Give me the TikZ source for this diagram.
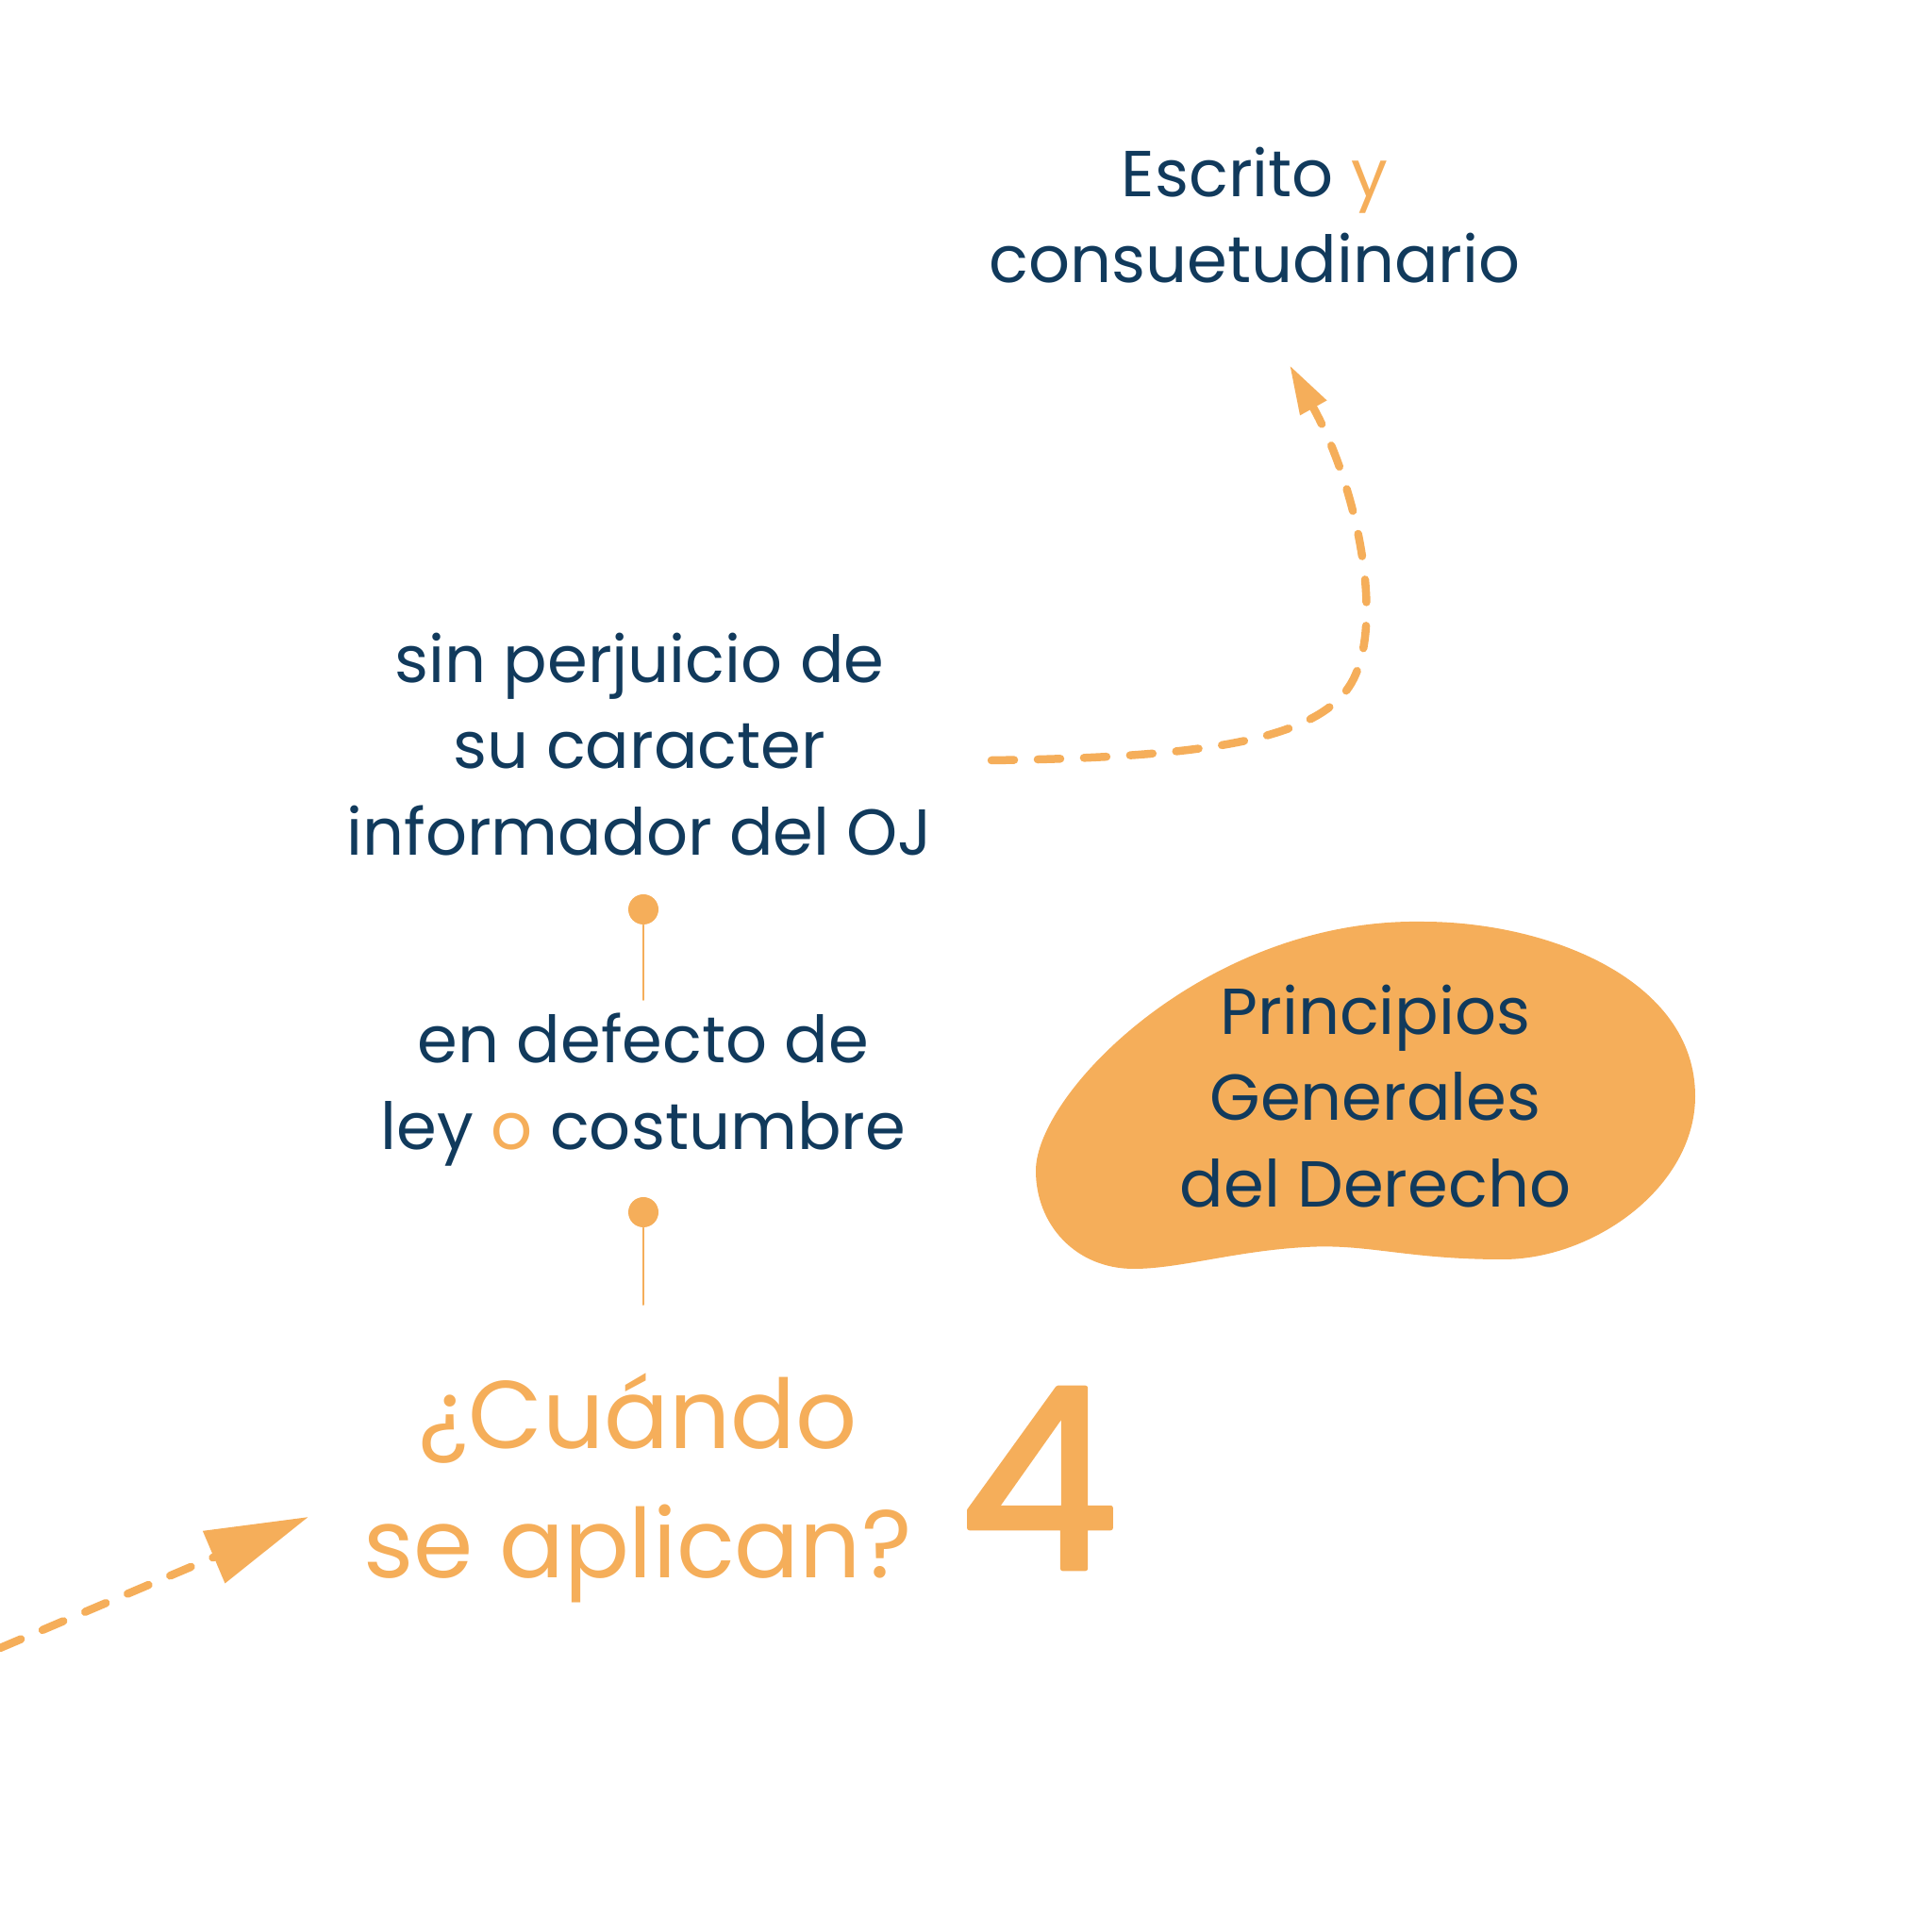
\documentclass[tikz,border=0pt]{standalone}
\usepackage{fontspec}
\setmainfont{Poppins}
\newfontfamily\numfont[FakeBold=2]{Poppins}
\usetikzlibrary{arrows.meta}
\definecolor{navy}{HTML}{113A5C}
\definecolor{peach}{HTML}{F5AE5A}

\begin{document}
\begin{tikzpicture}[
	line cap=round,
	line join=round,
	txt/.style={text=navy, align=center, font=\fontsize{19.6}{26}\selectfont},
	bigtxt/.style={text=peach, align=center, font=\fontsize{29}{39}\selectfont},
	pin/.style={circle, fill=peach, inner sep=0pt, minimum size=0.32cm},
	dasharrow/.style={draw=peach, line width=0.085cm, dash pattern=on 0.24cm off 0.25cm}
	]

	\useasboundingbox (0,0) rectangle (20.48,20.48);

	% Blob
	\fill[peach] (10.98,8.07)
		.. controls (10.98,8.90) and (12.80,10.75) .. (15.08,10.71)
		.. controls (16.40,10.71) and (17.97,10.10) .. (17.97,8.86)
		.. controls (17.97,7.90) and (16.90,7.13) .. (15.93,7.13)
		.. controls (14.90,7.13) and (14.50,7.30) .. (13.84,7.26)
		.. controls (13.10,7.22) and (12.50,7.03) .. (12.02,7.03)
		.. controls (11.40,7.03) and (10.98,7.50) .. (10.98,8.07)
		-- cycle;
	\node[txt] (pgd) at (14.58,8.86) {Principios\\Generales\\del Derecho};

	% Texts
	\node[txt] (escrito) at (13.30,18.20) {Escrito \textcolor{peach}{y}\\consuetudinario};
	\node[txt] (perjuicio) at (6.78,12.59) {sin perjuicio de\\su caracter\\informador del OJ};
	\node[txt] (defecto) at (6.82,8.93) {en defecto de\\ley \textcolor{peach}{o} costumbre};
	\node[bigtxt] (cuando) at (6.76,4.71) {¿Cuándo\\se aplican?};
	\node[text=peach, font=\fontsize{76}{76}\numfont] (num) at (11.01,4.81) {4};

	% Pins
	\node[pin] (pinA) at (6.82,10.84) {};
	\coordinate (pinAend) at (6.82,9.88);
	\draw[peach, line width=0.02cm] (pinA) -- (pinAend);
	\node[pin] (pinB) at (6.82,7.63) {};
	\coordinate (pinBend) at (6.82,6.65);
	\draw[peach, line width=0.02cm] (pinB) -- (pinBend);

	% Arrows
	\coordinate (topstart) at (10.51,12.42);
	\coordinate (toptip) at (13.67,16.61);
	\draw[dasharrow, -{Triangle[length=0.52cm, width=0.30cm]}]
		(topstart) .. controls (12.6,12.45) and (13.9,12.6) .. (14.3,13.2)
		.. controls (14.7,13.8) and (14.4,15.3) .. (toptip);

	\coordinate (lowstart) at (0,3.01);
	\coordinate (lowtip) at (3.27,4.40);
	\draw[dasharrow, -{Triangle[length=1.09cm, width=0.58cm]}] (lowstart) -- (lowtip);

\end{tikzpicture}
\end{document}
